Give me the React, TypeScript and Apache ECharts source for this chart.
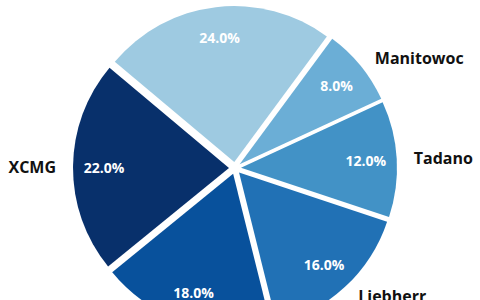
import React, { useEffect, useRef } from "react";
import * as echarts from "echarts";

const companies = ["SANY", "Manitowoc", "Tadano", "Liebherr", "Zoomlion", "XCMG"];
const shares = [24, 8, 12, 16, 18, 22];
const colors = ["#9ecae1", "#6baed6", "#4292c6", "#2171b5", "#08519c", "#08306b"];

export default function App() {
  const ref = useRef<HTMLDivElement>(null);
  useEffect(() => {
    if (!ref.current) return;
    const chart = echarts.init(ref.current, null, { renderer: "svg" });
    const data = companies.map((name, i) => ({
      name,
      value: shares[i],
      selected: true,
      itemStyle: { color: colors[i] },
      labelLine: { show: false, length: i === 0 ? 26 : 12, length2: 0 },
    }));
    const center = [235, 168];
    chart.setOption({
      animation: false,
      backgroundColor: "#ffffff",
      series: [
        {
          type: "pie",
          center,
          radius: 156,
          startAngle: 140,
          clockwise: true,
          selectedMode: "multiple",
          selectedOffset: 6,
          avoidLabelOverlap: false,
          silent: true,
          data,
          label: {
            show: true,
            position: "outside",
            formatter: "{b}",
            color: "#111111",
            fontFamily: "Open Sans",
            fontWeight: "bold",
            fontSize: 16,
            distanceToLabelLine: 5,
          },
          labelLine: { show: false, length: 12, length2: 0 },
          emphasis: { disabled: true },
        },
        {
          type: "pie",
          center,
          radius: [88, 156],
          startAngle: 140,
          clockwise: true,
          selectedMode: "multiple",
          selectedOffset: 6,
          avoidLabelOverlap: false,
          silent: true,
          data: companies.map((name, i) => ({
            name,
            value: shares[i],
            selected: true,
            itemStyle: { color: "rgba(0,0,0,0)" },
          })),
          label: {
            show: true,
            position: "inside",
            formatter: (p: any) => p.percent.toFixed(1) + "%",
            color: "#ffffff",
            fontFamily: "Open Sans",
            fontWeight: "bold",
            fontSize: 14,
          },
          labelLine: { show: false },
          emphasis: { disabled: true },
        },
      ],
    });
    return () => chart.dispose();
  }, []);
  return (
    <div
      ref={ref}
      style={{ position: "fixed", left: 0, top: 0, width: 480, height: 300 }}
    />
  );
}
